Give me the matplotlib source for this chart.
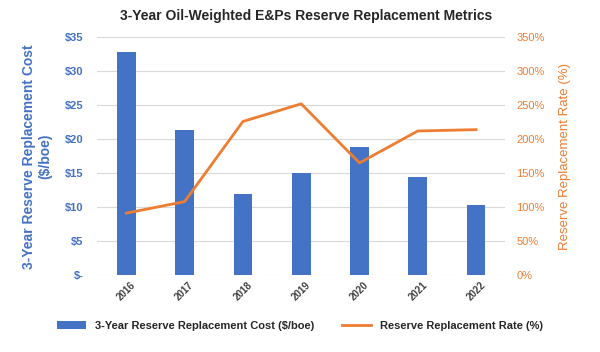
import matplotlib.pyplot as plt
import numpy as np
from matplotlib.ticker import FuncFormatter

plt.rcParams['font.family'] = ['Liberation Sans', 'DejaVu Sans']

# Chart data
years = ["2016", "2017", "2018", "2019", "2020", "2021", "2022"]
cost = [32.8, 21.3, 11.9, 15.0, 18.8, 14.4, 10.3]          # $/boe
rate = [91, 108, 226, 252, 165, 212, 214]                 # %

blue = "#4472C4"
orange = "#ED7D31"
grid_color = "#D9D9D9"

fig = plt.figure(figsize=(6, 3.52), dpi=100)
ax = fig.add_axes([0.162, 0.219, 0.68, 0.675])
ax2 = ax.twinx()

x = np.arange(len(years))
ax.bar(x, cost, width=0.32, color=blue, label="3-Year Reserve Replacement Cost ($/boe)", zorder=2)
ax2.plot(x, rate, color=orange, linewidth=2, label="Reserve Replacement Rate (%)", zorder=3)

ax.set_xlim(-0.5, len(years) - 0.5)
ax.set_ylim(0, 35)
ax.set_yticks(np.arange(0, 36, 5))
ax.yaxis.set_major_formatter(FuncFormatter(lambda v, p: "$-" if v == 0 else f"${v:.0f}"))
ax2.set_ylim(0, 350)
ax2.set_yticks(np.arange(0, 351, 50))
ax2.yaxis.set_major_formatter(FuncFormatter(lambda v, p: f"{v:.0f}%"))

ax.grid(axis='y', color=grid_color, linewidth=0.8, zorder=0)
ax.set_axisbelow(True)
for a in (ax, ax2):
    for s in a.spines.values():
        s.set_visible(False)
    a.tick_params(length=0)

ax.set_xticks(x)
ax.set_xticklabels(years, rotation=45, fontsize=7, fontweight='bold', color="#404040")
ax.tick_params(axis='y', labelsize=8, labelcolor=blue, pad=10)
ax2.tick_params(axis='y', labelsize=8, labelcolor=orange, pad=8)
for t in ax.get_yticklabels():
    t.set_fontweight('bold')

# left axis title, two centred lines
fig.text(0.062, 0.556, "3-Year Reserve Replacement Cost\n($/boe)", color=blue, fontsize=10,
         fontweight='bold', rotation=90, ha='center', va='center', multialignment='center')
ax2.set_ylabel("Reserve Replacement Rate (%)", color=orange, fontsize=9.5, labelpad=10)

fig.suptitle("3-Year Oil-Weighted E&Ps Reserve Replacement Metrics", fontsize=10,
             fontweight='bold', color="#262626", x=0.51, y=0.975)

h1, l1 = ax.get_legend_handles_labels()
h2, l2 = ax2.get_legend_handles_labels()
fig.legend(h1 + h2, l1 + l2, loc='center', bbox_to_anchor=(0.5, 0.075), ncol=2,
           frameon=False, prop={'size': 8, 'weight': 'bold'}, handlelength=2.6,
           columnspacing=2.5, labelcolor="#262626")

fig.savefig("out.png", dpi=100)
